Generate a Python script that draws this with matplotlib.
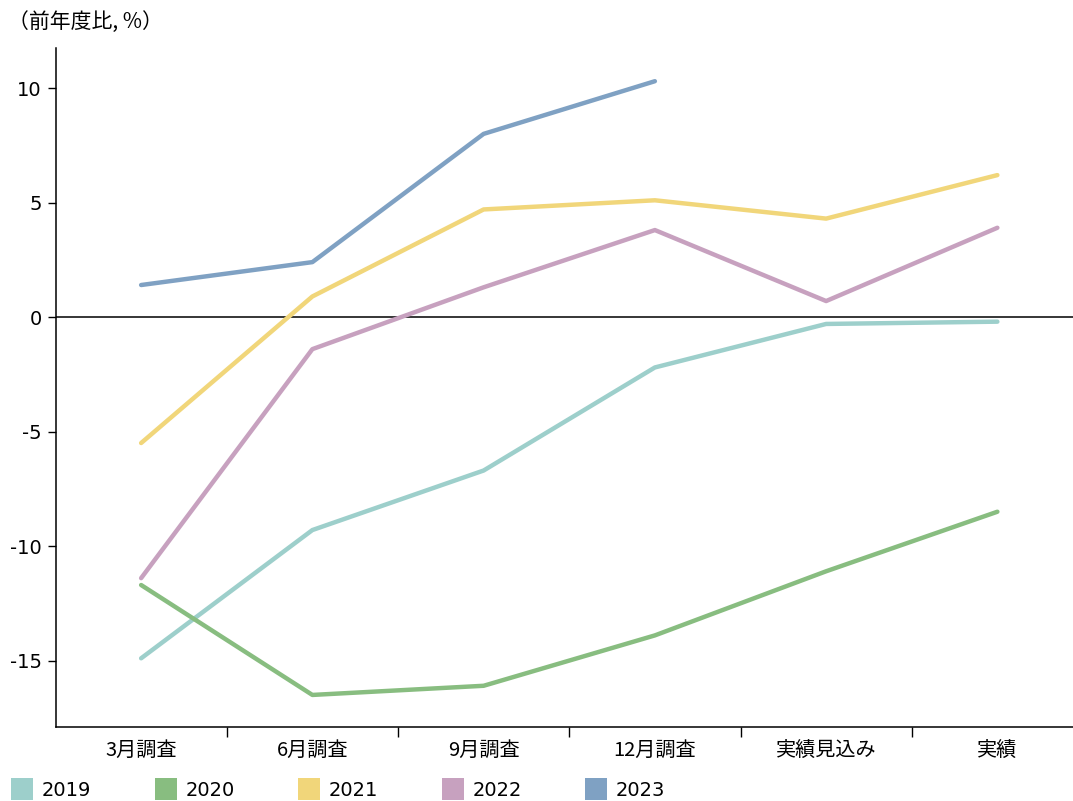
import matplotlib
matplotlib.use("Agg")
import matplotlib.pyplot as plt
from matplotlib.patches import Rectangle

plt.rcParams['font.family'] = ['DejaVu Sans', 'Noto Sans CJK JP']

categories = ["3月調査", "6月調査", "9月調査", "12月調査", "実績見込み", "実績"]
years = ["2019", "2020", "2021", "2022", "2023"]
values_2019 = [-14.9, -9.3, -6.7, -2.2, -0.3, -0.2]
values_2020 = [-11.7, -16.5, -16.1, -13.9, -11.1, -8.5]
values_2021 = [-5.5, 0.9, 4.7, 5.1, 4.3, 6.2]
values_2022 = [-11.4, -1.4, 1.3, 3.8, 0.7, 3.9]
values_2023 = [1.4, 2.4, 8.0, 10.3]
yticks = [-15, -10, -5, 0, 5, 10]
ytick_labels = ["-15", "-10", "-5", "0", "5", "10"]

colors = ["#9dcfcb", "#88bd80", "#f1d67a", "#c7a1bf", "#7fa1c3"]
series = [values_2019, values_2020, values_2021, values_2022, values_2023]

W, H = 1073, 801
fig = plt.figure(figsize=(W / 100, H / 100), dpi=100)
left, right, bottom, top = 55.5, 1083, 727, 48
ax = fig.add_axes([left / W, 1 - bottom / H, (right - left) / W, (bottom - top) / H])

x = list(range(len(categories)))
for vals, c in zip(series, colors):
    ax.plot(x[:len(vals)], vals, color=c, lw=3.2, solid_capstyle='round',
            solid_joinstyle='round', zorder=3)

ax.axhline(0, color='black', lw=1.1, zorder=2)

ax.set_xlim(-0.5, len(categories) - 0.5)
ax.set_ylim(-17.9, 11.75)

ax.set_yticks(yticks)
ax.set_yticklabels(ytick_labels, fontsize=14)
ax.set_xticks([i + 0.5 for i in range(len(categories) - 1)])
ax.set_xticklabels([])
ax.set_xticks(x, minor=True)
ax.set_xticklabels(categories, minor=True, fontsize=14.5,
                   fontfamily=['Noto Sans CJK JP', 'DejaVu Sans'])
ax.tick_params(axis='x', which='major', length=7, width=1, direction='out')
ax.tick_params(axis='x', which='minor', length=0, pad=9)
ax.tick_params(axis='y', length=6, width=1, pad=4)

for s in ['top', 'right']:
    ax.spines[s].set_visible(False)
for s in ['left', 'bottom']:
    ax.spines[s].set_linewidth(1.1)

fig.text(8 / W, 1 - 22 / H, "（前年度比, %）", fontsize=15, va='center', ha='left',
         family=['Noto Sans CJK JP', 'DejaVu Sans'])

# legend row along the bottom edge
for i, (yr, c) in enumerate(zip(years, colors)):
    x0 = 11 + i * 143.5
    fig.add_artist(Rectangle((x0 / W, 1 - 800 / H), 22 / W, 22 / H,
                             transform=fig.transFigure, color=c, lw=0))
    fig.text((x0 + 31) / W, 1 - 790 / H, yr, fontsize=14, va='center', ha='left')

fig.savefig("out.png", dpi=100)
